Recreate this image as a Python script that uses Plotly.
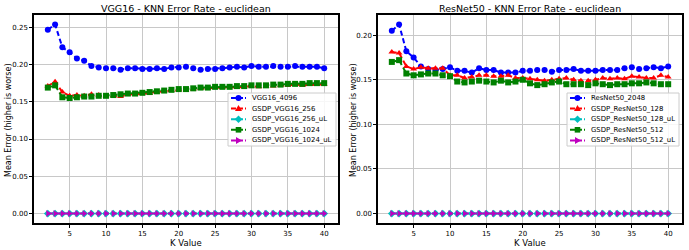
import plotly.graph_objects as go

K = list(range(2, 41))

vgg16_4096 = [0.2466, 0.2537, 0.223, 0.2165, 0.208, 0.205, 0.198, 0.196, 0.195, 0.195,
              0.193, 0.195, 0.195, 0.194, 0.194, 0.195, 0.194, 0.196, 0.196, 0.197,
              0.195, 0.193, 0.194, 0.194, 0.195, 0.196, 0.197, 0.196, 0.198, 0.197,
              0.197, 0.198, 0.197, 0.197, 0.198, 0.197, 0.197, 0.197, 0.195]
gsdp_vgg16_256 = [0.171, 0.177, 0.163, 0.158, 0.159, 0.158, 0.160, 0.159, 0.158, 0.158,
                  0.157, 0.160, 0.160, 0.161, 0.161, 0.163, 0.164, 0.165, 0.166, 0.166,
                  0.167, 0.168, 0.168, 0.169, 0.169, 0.170, 0.169, 0.170, 0.171, 0.170,
                  0.171, 0.171, 0.172, 0.172, 0.173, 0.172, 0.173, 0.173, 0.173]
gsdp_vgg16_256_ul = [0.0] * 39
gsdp_vgg16_1024 = [0.169, 0.172, 0.156, 0.155, 0.156, 0.157, 0.157, 0.158, 0.158, 0.159,
                   0.160, 0.161, 0.161, 0.162, 0.163, 0.164, 0.165, 0.166, 0.167, 0.167,
                   0.168, 0.169, 0.169, 0.170, 0.170, 0.170, 0.171, 0.171, 0.172, 0.172,
                   0.172, 0.173, 0.173, 0.174, 0.174, 0.174, 0.175, 0.175, 0.175]
gsdp_vgg16_1024_ul = [0.0] * 39

resnet50_2048 = [0.205, 0.212, 0.182, 0.175, 0.165, 0.162, 0.161, 0.162, 0.164, 0.160,
                 0.160, 0.158, 0.163, 0.161, 0.161, 0.158, 0.158, 0.158, 0.160, 0.160,
                 0.161, 0.161, 0.159, 0.161, 0.161, 0.162, 0.160, 0.160, 0.160, 0.161,
                 0.161, 0.161, 0.163, 0.164, 0.162, 0.163, 0.164, 0.163, 0.165]
gsdp_resnet50_128 = [0.181, 0.180, 0.165, 0.162, 0.164, 0.163, 0.163, 0.163, 0.155, 0.155,
                     0.152, 0.153, 0.155, 0.155, 0.154, 0.154, 0.155, 0.152, 0.152, 0.151,
                     0.150, 0.149, 0.150, 0.151, 0.152, 0.150, 0.149, 0.149, 0.150, 0.152,
                     0.151, 0.152, 0.151, 0.154, 0.153, 0.152, 0.152, 0.155, 0.153]
gsdp_resnet50_128_ul = [0.0] * 39
gsdp_resnet50_512 = [0.170, 0.172, 0.157, 0.155, 0.156, 0.157, 0.157, 0.155, 0.154, 0.148,
                     0.147, 0.148, 0.149, 0.148, 0.147, 0.149, 0.147, 0.148, 0.150, 0.146,
                     0.144, 0.145, 0.147, 0.148, 0.145, 0.145, 0.145, 0.144, 0.146, 0.145,
                     0.144, 0.145, 0.145, 0.146, 0.146, 0.147, 0.146, 0.145, 0.145]
gsdp_resnet50_512_ul = [0.0] * 39

left_names = ["VGG16_4096", "GSDP_VGG16_256", "GSDP_VGG16_256_uL", "GSDP_VGG16_1024", "GSDP_VGG16_1024_uL"]
right_names = ["ResNet50_2048", "GSDP_ResNet50_128", "GSDP_ResNet50_128_uL", "GSDP_ResNet50_512", "GSDP_ResNet50_512_uL"]
left_vals = [vgg16_4096, gsdp_vgg16_256, gsdp_vgg16_256_ul, gsdp_vgg16_1024, gsdp_vgg16_1024_ul]
right_vals = [resnet50_2048, gsdp_resnet50_128, gsdp_resnet50_128_ul, gsdp_resnet50_512, gsdp_resnet50_512_ul]

colors = ["#0000ff", "#ff0000", "#00bfbf", "#008000", "#bf00bf"]
symbols = ["circle", "triangle-up", "diamond", "square", "triangle-right"]

W, H = 689, 250
FONT = "DejaVu Sans"

fig = go.Figure()
for names, vals, xa, ya in [(left_names, left_vals, "x", "y"),
                            (right_names, right_vals, "x2", "y2")]:
    for n, v, c, s in zip(names, vals, colors, symbols):
        fig.add_trace(go.Scatter(
            x=K, y=v, name=n, mode="lines+markers",
            line=dict(color=c, width=2, dash="5px,3px"),
            marker=dict(symbol=s, size=6, color=c),
            xaxis=xa, yaxis=ya, showlegend=False))

def xax(domain):
    return dict(domain=domain, range=[0.1, 41.9], tickvals=[5, 10, 15, 20, 25, 30, 35, 40],
                showgrid=True, gridcolor="#c8c8c8", gridwidth=1, zeroline=False,
                showline=True, mirror=True, linecolor="black", linewidth=1.5,
                ticks="outside", ticklen=3, tickcolor="black",
                tickfont=dict(size=7, color="black", family=FONT))

def yax(domain, rng, vals, anchor):
    return dict(domain=domain, range=rng, tickvals=vals, tickformat=".2f", anchor=anchor,
                showgrid=True, gridcolor="#c8c8c8", gridwidth=1, zeroline=False,
                showline=True, mirror=True, linecolor="black", linewidth=1.5,
                ticks="outside", ticklen=3, tickcolor="black",
                tickfont=dict(size=7, color="black", family=FONT))

ydom = [1 - 223 / H, 1 - 15 / H]

fig.update_layout(
    width=W, height=H, margin=dict(l=0, r=0, t=0, b=0),
    paper_bgcolor="white", plot_bgcolor="white",
    font=dict(family=FONT, color="black"),
    xaxis=xax([34 / W, 338 / W]),
    xaxis2=dict(xax([378 / W, 682 / W]), anchor="y2"),
    yaxis=yax(ydom, [-0.0127, 0.2664], [0, 0.05, 0.10, 0.15, 0.20, 0.25], "x"),
    yaxis2=yax(ydom, [-0.0106, 0.2226], [0, 0.05, 0.10, 0.15, 0.20], "x2"),
    showlegend=False,
)

def px(x):
    return x / W

def py(y):
    return 1 - y / H

annos = [
    dict(text="VGG16 - KNN Error Rate - euclidean", x=186, y=8, size=9.5),
    dict(text="ResNet50 - KNN Error Rate - euclidean", x=530, y=8, size=9.5),
    dict(text="K Value", x=186, y=242.5, size=8.5),
    dict(text="K Value", x=530, y=242.5, size=8.5),
]
for a in annos:
    fig.add_annotation(text=a["text"], x=px(a["x"]), y=py(a["y"]), xref="paper", yref="paper",
                       showarrow=False, xanchor="center", yanchor="middle",
                       font=dict(size=a["size"], family=FONT, color="black"))
for xp in [8, 353]:
    fig.add_annotation(text="Mean Error (higher is worse)", x=px(xp), y=py(120),
                       xref="paper", yref="paper", showarrow=False, textangle=-90,
                       xanchor="center", yanchor="middle",
                       font=dict(size=8, family=FONT, color="black"))

# Compact legends drawn as layout shapes + text (matplotlib-like spacing)
def draw_legend(names, left, right, top, bottom):
    fig.add_shape(type="rect", xref="paper", yref="paper",
                  x0=px(left), x1=px(right), y0=py(bottom), y1=py(top),
                  fillcolor="rgba(255,255,255,0.85)", line=dict(color="#cccccc", width=1))
    for i, (n, c, s) in enumerate(zip(names, colors, symbols)):
        cy = top + 5 + i * 10.6
        lx0, lx1 = left + 3, left + 18
        cx = (lx0 + lx1) / 2
        fig.add_shape(type="line", xref="paper", yref="paper",
                      x0=px(lx0), x1=px(lx1), y0=py(cy), y1=py(cy),
                      line=dict(color=c, width=2, dash="5px,2px"))
        r = 3
        if s == "circle":
            fig.add_shape(type="circle", xref="paper", yref="paper",
                          x0=px(cx - r), x1=px(cx + r), y0=py(cy + r), y1=py(cy - r),
                          fillcolor=c, line=dict(color=c, width=0))
        elif s == "square":
            fig.add_shape(type="rect", xref="paper", yref="paper",
                          x0=px(cx - 2.8), x1=px(cx + 2.8), y0=py(cy + 2.8), y1=py(cy - 2.8),
                          fillcolor=c, line=dict(color=c, width=0))
        else:
            if s == "triangle-up":
                pts = [(cx, cy - 3.5), (cx + 3.5, cy + 2.5), (cx - 3.5, cy + 2.5)]
            elif s == "diamond":
                pts = [(cx, cy - 3.8), (cx + 3.8, cy), (cx, cy + 3.8), (cx - 3.8, cy)]
            else:
                pts = [(cx + 3.5, cy), (cx - 2.5, cy - 3.5), (cx - 2.5, cy + 3.5)]
            path = "M " + " L ".join(f"{px(a)},{py(b)}" for a, b in pts) + " Z"
            fig.add_shape(type="path", xref="paper", yref="paper", path=path,
                          fillcolor=c, line=dict(color=c, width=0))
        fig.add_annotation(text=n, x=px(left + 22), y=py(cy), xref="paper", yref="paper",
                           showarrow=False, xanchor="left", yanchor="middle",
                           font=dict(size=6.9, family=FONT, color="black"))

draw_legend(left_names, 228, 336, 93, 146)
draw_legend(right_names, 567, 679, 93, 146)

fig.write_html("out.html", config={"displayModeBar": False},
               post_script="document.body.style.margin='0px';")
